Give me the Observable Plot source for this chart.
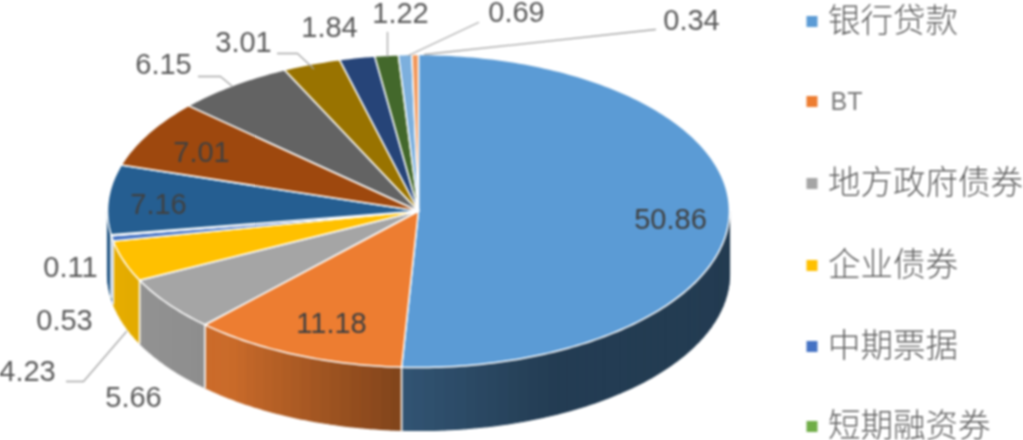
<!DOCTYPE html>
<html><head><meta charset="utf-8">
<style>html,body{margin:0;padding:0;background:#fff;overflow:hidden}</style>
<script src="https://cdn.jsdelivr.net/npm/d3@7"></script>
<script src="https://cdn.jsdelivr.net/npm/@observablehq/plot@0.6"></script>
</head><body><div id="chart"></div>
<script>
// Data
const sliceValues = [50.86, 11.18, 5.66, 4.23, 0.53, 0.11, 7.16, 7.01, 6.15, 3.01, 1.84, 1.22, 0.69, 0.34];
const sliceLabels = ["50.86","11.18","5.66","4.23","0.53","0.11","7.16","7.01","6.15","3.01","1.84","1.22","0.69","0.34"];
const sliceColors = ["#5b9bd5","#ed7d31","#a5a5a5","#ffc000","#4472c4","#70ad47","#255e91","#9e480e","#636363","#997300","#264478","#43682b","#7cafdd","#f1975a"];
const legendNames = ["银行贷款","BT","地方政府债券","企业债券","中期票据","短期融资券"];

// Layout (not data)
const W = 1023, H = 440;
const pie = {cx: 418, cy: 210.5, rx: 311, ry: 156.5, depth: 63};
const labelAt = [[670,219],[331,323],[133,397],[27,371],[64,320],[70,267],[158,204],[201,152],[163,64],[243,42],[329,27],[400,13],[516,12],[691,20]];
const leaders = [
  [[66,381],[83,381],[126,331]],
  [[198,76],[220,76],[232,86]],
  [[277,53],[297,53],[313,68]],
  [[387,32],[387,56]],
  [[478,22],[408,55]],
  [[655,29],[424,54]]
];
const legendRow = [21,101,183,265,346,426];

const total = d3.sum(sliceValues);
const cum = d3.cumsum(sliceValues);
const spans = sliceValues.map((v,i)=>[(i?cum[i-1]:0)/total*360, cum[i]/total*360]);
const rad = d => d*Math.PI/180;
const pt = (deg, dy=0) => [pie.cx+pie.rx*Math.sin(rad(deg)), pie.cy-pie.ry*Math.cos(rad(deg))+dy];
const wallLight = d3.scaleLinear([90,155,183,217,270],[.38,.39,.54,.85,.92]).clamp(true);
const shade = (col, deg) => {
  const f = wallLight(deg), c = d3.rgb(col);
  return d3.rgb(c.r*f,c.g*f,c.b*f).formatHex();
};

// Walls: thin strips on the visible front half
const wall = [], seams = [];
spans.forEach(([a,b],i)=>{
  const lo=Math.max(a,90), hi=Math.min(b,270);
  if(lo>=hi) return;
  const n=Math.ceil((hi-lo)/2), step=(hi-lo)/n;
  for(let k=0;k<n;k++){
    const t=lo+k*step, e=t+step, id=`w${i}-${k}`, fill=shade(sliceColors[i],(t+e)/2);
    const ring=[];
    for(let j=0;j<=2;j++) ring.push(pt(t+(e-t)*j/2));
    for(let j=2;j>=0;j--) ring.push(pt(t+(e-t)*j/2,pie.depth));
    ring.push(ring[0]);
    ring.forEach(([x,y])=>wall.push({x,y,id,fill}));
  }
  if(a>=90 && b-a>1.5){
    [pt(a),pt(a,pie.depth)].forEach(([x,y])=>seams.push({x,y,id:`s${i}`}));
  }
});
// Top faces
const tops=[];
spans.forEach(([a,b],i)=>{
  const n=Math.max(2,Math.ceil((b-a)/1));
  const ring=[[pie.cx,pie.cy]];
  for(let k=0;k<=n;k++) ring.push(pt(a+(b-a)*k/n));
  ring.push([pie.cx,pie.cy]);
  ring.forEach(([x,y])=>tops.push({x,y,id:`t${i}`,fill:sliceColors[i]}));
});
const labels = sliceLabels.map((t,i)=>({t,x:labelAt[i][0],y:labelAt[i][1],inside:[0,1,6,7].includes(i)}));
const leaderPts = leaders.flatMap((l,i)=>l.map(([x,y])=>({x,y,id:i})));
const legend = legendNames.map((name,i)=>({name,y:legendRow[i],color:sliceColors[i]}));

const chart = Plot.plot({
  width:W,height:H,margin:0,
  x:{domain:[0,W],range:[0,W],axis:null},
  y:{domain:[0,H],range:[0,H],axis:null},
  color:{type:"identity"},
  style:{background:"#fff",filter:"blur(0.8px)",display:"block"},
  marks:[
    Plot.line(wall,{x:"x",y:"y",z:"id",fill:"fill",stroke:"fill",strokeWidth:1.2}),
    Plot.line(seams,{x:"x",y:"y",z:"id",stroke:"#fff",strokeWidth:1.6}),
    Plot.line(tops,{x:"x",y:"y",z:"id",fill:"fill",stroke:"#fff",strokeWidth:1.5,strokeLinejoin:"round"}),
    Plot.line(leaderPts,{x:"x",y:"y",z:"id",stroke:"#a6a6a6",strokeWidth:1.3}),
    Plot.text(labels,{x:"x",y:"y",text:"t",fontSize:29,lineAnchor:"middle",fontFamily:"Liberation Sans",fill:d=>d.inside?"#404040":"#5a5a5a"}),
    Plot.dot(legend,{x:()=>811.5,y:"y",symbol:"square",r:6.2,fill:"color",stroke:null}),
    Plot.text(legend.filter(d=>d.name!=="BT"),{x:()=>827.5,y:"y",text:"name",textAnchor:"start",lineAnchor:"middle",fontSize:32.5,fontWeight:300,fontFamily:"Noto Sans CJK SC",fill:"#5f5f5f"}),
    Plot.text(legend.filter(d=>d.name==="BT"),{x:()=>830,y:"y",text:"name",textAnchor:"start",lineAnchor:"middle",fontSize:25,fontFamily:"Liberation Sans",fill:"#7a7a7a"})
  ]
});
document.getElementById("chart").append(chart);
</script></body></html>
